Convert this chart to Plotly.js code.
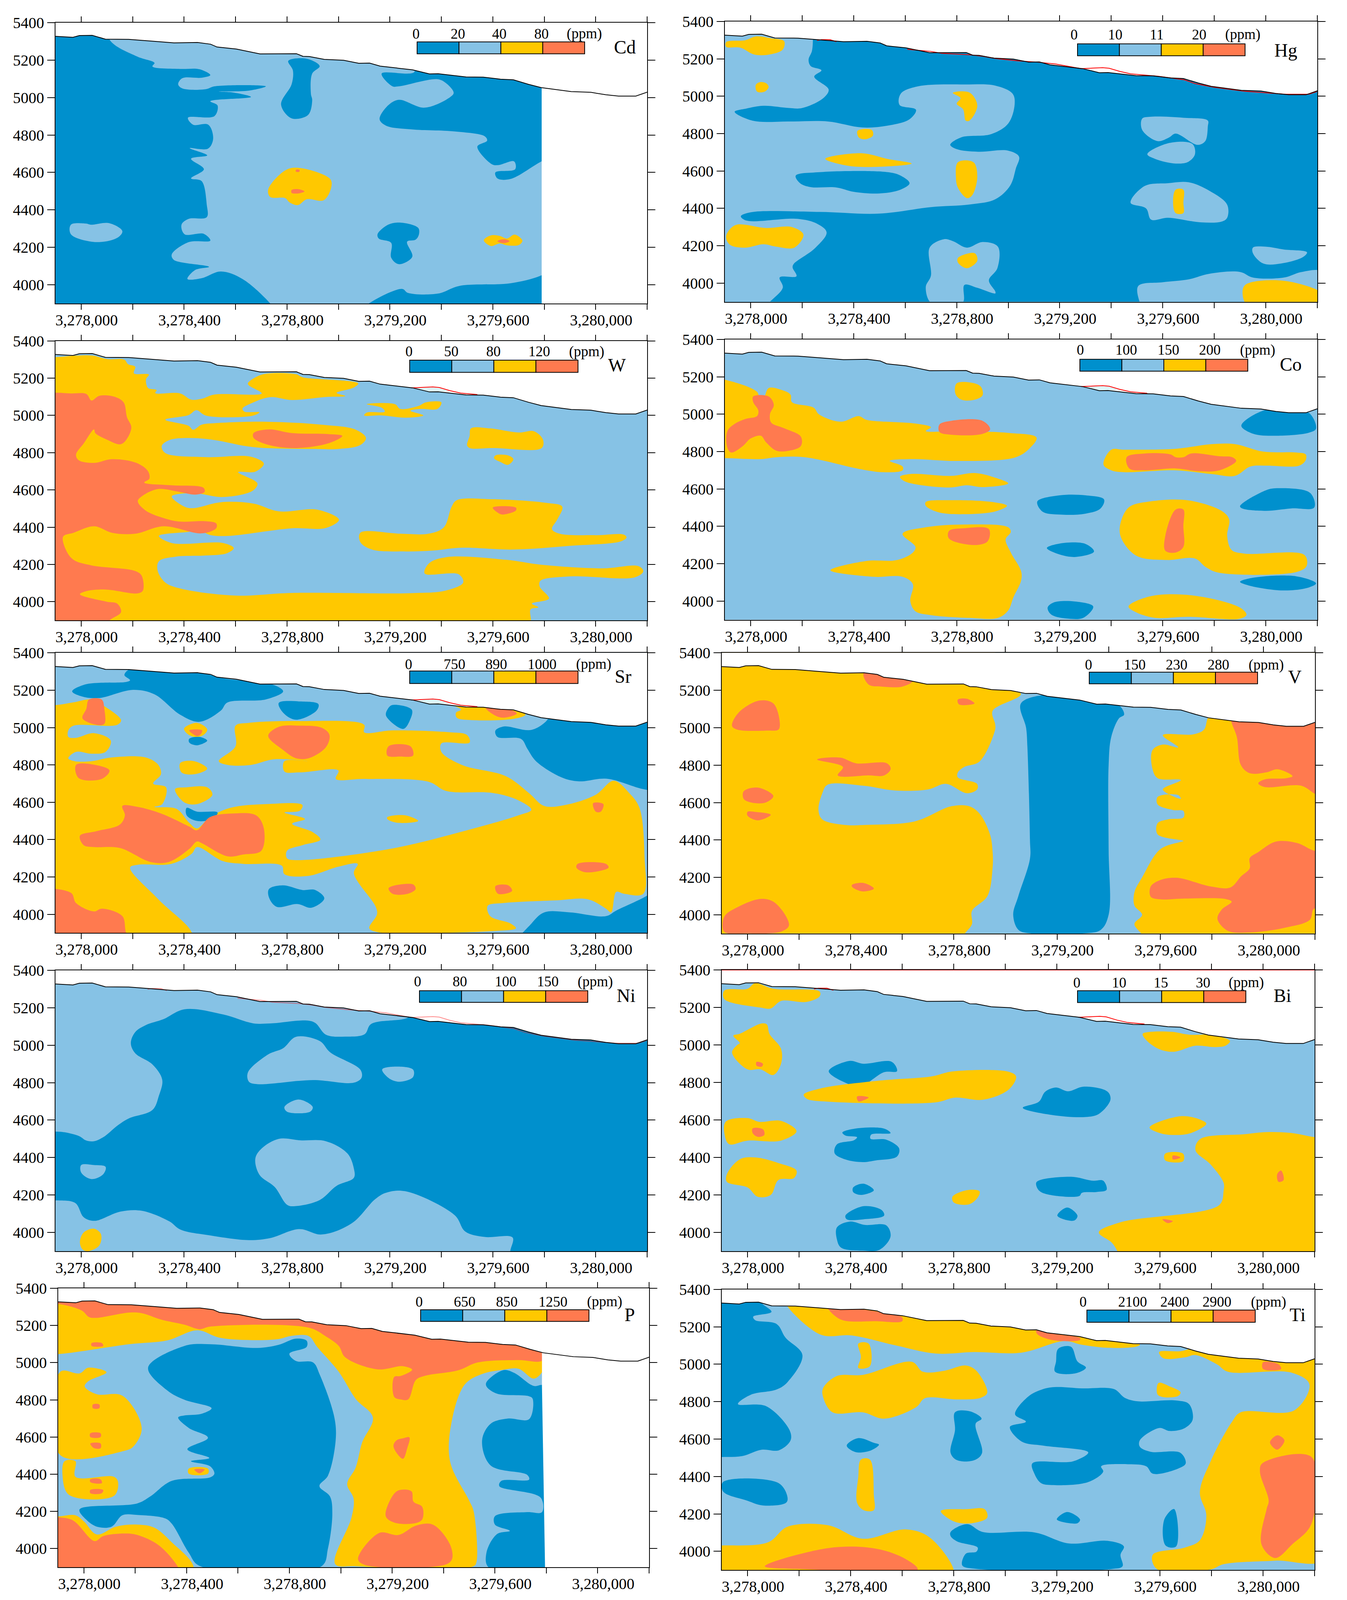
<!DOCTYPE html>
<html>
<head>
<meta charset="utf-8">
<script src="https://cdn.plot.ly/plotly-3.0.1.min.js"></script>
<style>body{margin:0;background:#fff;overflow:hidden}</style>
</head>
<body>
<div id="chart"></div>
<script>
// x values below are metres east of x0, y values are elevation in m
const x0 = 3278000;
const xTickVals = [0,200,400,600,800,1000,1200,1400,1600,1800,2000,2200].map(v => x0 + v);
const xTickText = ["3,278,000","","3,278,400","","3,278,800","","3,279,200","","3,279,600","","3,280,000",""];
const yTickVals = [4000,4200,4400,4600,4800,5000,5200,5400];
const classColors = ["#0090CD","#86C2E5","#FFC800","#FF7A4F"];

const terrain = [[-100,5327],[-32,5322],[-7,5331],[43,5332],[94,5312],[185,5311],[269,5302],[361,5292],[452,5294],[503,5285],[528,5270],[603,5259],[695,5233],[837,5234],[862,5220],[887,5219],[945,5204],[1020,5199],[1079,5183],[1121,5184],[1162,5168],[1288,5148],[1354,5126],[1388,5127],[1496,5110],[1563,5109],[1630,5098],[1680,5095],[1738,5071],[1788,5053],[1905,5032],[1981,5028],[2039,5015],[2089,5008],[2156,5008],[2181,5020],[2200,5029]];
const redFull = [[258,5299],[275,5303],[308,5303],[333,5292]];
const redLong = [[608,5251],[667,5244],[700,5240],[742,5230],[850,5222],[900,5214],[950,5202],[1033,5190],[1117,5182],[1183,5173],[1283,5148],[1367,5153],[1392,5150],[1433,5133],[1475,5120],[1583,5107],[1683,5088],[1725,5068],[1800,5048],[1917,5027],[2025,5016],[2075,5011],[2167,5011],[2198,5025]];
const redShort = [[1283,5148],[1367,5153],[1392,5150],[1433,5133],[1475,5120],[1540,5112]];
const redTop = [[-100,5400],[2200,5400]];
const paleWedge = [[1283,5148],[1367,5151],[1392,5148],[1430,5131],[1388,5127],[1354,5126]];
const cutCd = [[1790,5054],[1790,3900],[2200,3900],[2200,5054]];
const cutP = [[1783,5060],[1783,4875],[1795,3900],[2200,3900],[2200,5060]];

const cdAreas = [
 [0,[[100,5450],[110,5310],[218,5219],[285,5185],[277,5166],[385,5153],[460,5151],[502,5120],[468,5106],[393,5103],[377,5071],[393,5049],[485,5045],[518,5060],[718,5060],[652,5037],[535,5032],[585,5028],[660,5003],[502,4980],[530,4958],[518,4901],[415,4892],[435,4855],[494,4855],[513,4781],[493,4727],[422,4730],[490,4691],[427,4673],[477,4617],[427,4568],[468,4554],[488,4429],[488,4361],[418,4352],[390,4321],[402,4270],[477,4272],[502,4236],[418,4228],[352,4162],[360,4133],[497,4096],[443,4079],[413,4031],[468,4035],[543,4071],[627,4031],[735,3900],[760,3850],[-200,3850],[-200,5450]]],
 [1,[[-40,4321],[18,4327],[38,4321],[110,4329],[160,4287],[143,4253],[60,4228],[-40,4270],[-40,4321]]],
 [0,[[805,5196],[877,5207],[927,5168],[898,5128],[893,5020],[898,4986],[882,4907],[818,4889],[777,4963],[818,5071],[823,5145],[805,5196]]],
 [0,[[1288,5200],[1295,5136],[1168,5128],[1210,5060],[1235,5060],[1385,5098],[1418,5077],[1448,5026],[1435,5003],[1335,4946],[1235,4988],[1193,4958],[1160,4884],[1185,4850],[1285,4830],[1452,4819],[1569,4793],[1578,4770],[1540,4738],[1595,4645],[1620,4639],[1683,4659],[1687,4617],[1610,4600],[1618,4568],[1668,4565],[1785,4656],[1850,4700],[1850,5300],[1288,5200]]],
 [0,[[1118,3900],[1248,3978],[1270,3957],[1387,3953],[1470,3994],[1668,4008],[1785,4048],[1850,4100],[1850,3850],[1080,3850],[1118,3900]]],
 [0,[[1152,4270],[1193,4321],[1243,4332],[1310,4304],[1313,4270],[1300,4241],[1267,4230],[1287,4150],[1235,4110],[1205,4145],[1205,4224],[1157,4247],[1152,4270]]],
 [2,[[727,4509],[793,4611],[843,4625],[968,4565],[972,4520],[943,4452],[877,4457],[843,4426],[810,4440],[793,4463],[735,4469],[727,4509]]],
 [3,[[818,4506],[843,4511],[868,4499],[843,4488],[818,4491],[818,4506]]],
 [3,[[835,4614],[848,4614],[848,4604],[835,4604],[835,4614]]],
 [2,[[1565,4238],[1593,4264],[1627,4261],[1655,4247],[1685,4268],[1715,4236],[1702,4213],[1655,4211],[1627,4221],[1593,4207],[1565,4238]]],
 [3,[[1618,4233],[1643,4243],[1665,4233],[1643,4223],[1618,4233]]]
];

const hgAreas = [
 [1,[[242,5450],[242,5304],[238,5242],[225,5196],[233,5162],[275,5139],[247,5105],[303,5036],[283,4991],[200,4937],[150,4937],[50,4949],[-17,4934],[-62,4917],[8,4869],[150,4865],[300,4865],[433,4833],[533,4843],[617,4877],[642,4928],[578,4954],[583,5014],[650,5053],[833,5063],[950,5057],[1017,5014],[1025,4957],[1000,4854],[933,4797],[817,4780],[775,4740],[800,4717],[883,4703],[1000,4709],[1042,4677],[1030,4615],[1008,4523],[950,4449],[850,4421],[700,4407],[500,4372],[267,4381],[0,4379],[-38,4358],[-17,4335],[183,4344],[258,4318],[295,4272],[250,4187],[167,4102],[163,4084],[178,4037],[113,4031],[125,3976],[75,3900],[40,3850],[-200,3850],[-200,5450],[242,5450]]],
 [0,[[175,4575],[267,4594],[533,4594],[583,4575],[617,4535],[583,4501],[500,4480],[400,4489],[333,4512],[233,4514],[192,4535],[175,4575]]],
 [2,[[-95,5290],[-20,5300],[20,5320],[80,5310],[130,5295],[125,5250],[80,5225],[15,5223],[-40,5260],[-95,5265],[-95,5290]]],
 [2,[[20,5060],[35,5075],[60,5070],[70,5050],[55,5025],[25,5025],[20,5060]]],
 [2,[[415,4815],[470,4820],[475,4790],[445,4770],[420,4780],[415,4815]]],
 [2,[[290,4665],[430,4695],[530,4665],[625,4640],[480,4622],[370,4630],[290,4665]]],
 [2,[[785,5018],[850,5020],[880,4950],[850,4870],[835,4870],[825,4930],[800,4960],[815,4990],[785,5018]]],
 [2,[[805,4647],[865,4647],[880,4570],[860,4470],[840,4455],[805,4510],[797,4570],[805,4647]]],
 [2,[[-95,4250],[-60,4310],[60,4295],[160,4300],[205,4260],[170,4190],[100,4195],[50,4208],[-20,4190],[-80,4205],[-95,4250]]],
 [1,[[700,3895],[680,3980],[700,4040],[695,4190],[750,4235],[785,4225],[840,4190],[900,4220],[960,4195],[958,4080],[925,4015],[950,3955],[950,3945],[880,3975],[830,3990],[825,3900],[780,3895],[700,3895]]],
 [2,[[805,4135],[870,4160],[880,4120],[840,4080],[805,4110],[805,4135]]],
 [1,[[1520,4880],[1550,4890],[1680,4885],[1775,4870],[1775,4840],[1765,4760],[1735,4740],[1650,4800],[1625,4780],[1580,4760],[1520,4820],[1520,4880]]],
 [1,[[1540,4690],[1625,4750],[1715,4745],[1725,4690],[1700,4650],[1650,4640],[1570,4665],[1540,4690]]],
 [1,[[1475,4430],[1530,4520],[1620,4535],[1700,4540],[1780,4495],[1850,4420],[1850,4350],[1830,4330],[1750,4325],[1620,4350],[1555,4340],[1535,4400],[1475,4430]]],
 [2,[[1650,4500],[1680,4500],[1680,4430],[1680,4375],[1650,4375],[1640,4430],[1650,4500]]],
 [1,[[1950,4190],[2000,4195],[2070,4180],[2160,4165],[2145,4140],[2060,4105],[1990,4105],[1950,4160],[1950,4190]]],
 [1,[[1510,3900],[1505,3985],[1600,4005],[1700,4020],[1780,4050],[1900,4060],[1950,4030],[2070,4030],[2140,4060],[2220,4060],[2250,3850],[1530,3850],[1510,3900]]],
 [2,[[1920,3990],[2050,4015],[2180,3975],[2210,3950],[2210,3880],[2050,3895],[1930,3880],[1910,3940],[1920,3990]]]
];

const wAreas = [
 [2,[[-200,5313],[-100,5313],[-15,5321],[43,5321],[102,5302],[168,5299],[182,5275],[210,5261],[205,5226],[263,5219],[252,5194],[260,5147],[293,5136],[288,5120],[385,5118],[427,5085],[468,5089],[518,5112],[702,5118],[652,5161],[648,5172],[702,5219],[835,5221],[860,5205],[1077,5172],[1060,5150],[993,5121],[1027,5104],[952,5099],[818,5083],[735,5098],[668,5069],[627,5036],[635,5020],[693,5017],[668,4999],[485,4999],[448,5028],[418,5002],[327,4977],[418,4944],[435,4923],[468,4950],[518,4958],[718,4966],[935,4950],[1068,4923],[1107,4879],[1085,4841],[1002,4820],[902,4820],[668,4830],[518,4868],[418,4879],[343,4868],[313,4836],[327,4798],[485,4776],[660,4778],[710,4741],[677,4698],[610,4695],[685,4635],[668,4597],[552,4562],[435,4583],[352,4565],[402,4510],[435,4502],[543,4534],[668,4527],[768,4485],[918,4494],[1002,4440],[952,4396],[818,4394],[568,4353],[502,4358],[460,4383],[418,4375],[302,4353],[352,4315],[552,4315],[593,4288],[568,4261],[485,4248],[368,4242],[302,4217],[297,4168],[327,4103],[385,4071],[602,4033],[818,4047],[1285,4046],[1418,4060],[1485,4103],[1468,4147],[1335,4152],[1352,4206],[1418,4239],[1652,4225],[1785,4199],[2027,4179],[2168,4190],[2185,4163],[2152,4131],[1902,4136],[1785,4112],[1782,4082],[1818,4017],[1752,3990],[1777,3970],[1747,3959],[1748,3900],[1740,3850],[-200,3850],[-200,5313]]],
 [3,[[-200,5122],[-100,5122],[-40,5118],[20,5115],[40,5080],[70,5105],[130,5100],[165,5070],[178,4990],[195,4935],[170,4860],[150,4845],[100,4870],[55,4905],[50,4925],[10,4850],[-20,4790],[-10,4760],[50,4745],[120,4765],[215,4745],[260,4700],[265,4660],[245,4640],[350,4625],[475,4612],[480,4590],[445,4575],[380,4590],[300,4605],[240,4570],[220,4540],[250,4490],[330,4445],[385,4430],[480,4432],[525,4420],[525,4395],[470,4367],[320,4405],[210,4365],[120,4370],[50,4405],[-30,4370],[-70,4350],[-60,4280],[-30,4225],[40,4195],[210,4165],[235,4140],[240,4060],[220,4045],[100,4065],[30,4060],[-5,4040],[100,4000],[140,3990],[155,3945],[110,3900],[80,3850],[-200,3850],[-200,5122]]],
 [3,[[670,4905],[730,4925],[820,4905],[960,4900],[1015,4890],[960,4850],[830,4825],[720,4845],[670,4880],[670,4905]]],
 [2,[[1110,5060],[1220,5060],[1240,5035],[1310,5050],[1340,5070],[1400,5070],[1385,5035],[1320,5035],[1280,5025],[1330,5000],[1260,4988],[1170,5000],[1100,5000],[1110,5015],[1180,5020],[1170,5040],[1110,5060]]],
 [2,[[1515,4930],[1590,4930],[1700,4908],[1760,4915],[1795,4870],[1790,4825],[1600,4825],[1510,4825],[1500,4840],[1510,4890],[1515,4930]]],
 [2,[[1610,4785],[1660,4785],[1680,4765],[1660,4735],[1630,4750],[1605,4770],[1610,4785]]],
 [2,[[1085,4370],[1240,4365],[1350,4365],[1410,4400],[1440,4510],[1460,4545],[1600,4550],[1810,4530],[1870,4510],[1850,4440],[1830,4390],[1860,4365],[2000,4357],[2110,4360],[2120,4345],[2100,4325],[1900,4300],[1680,4280],[1480,4290],[1370,4275],[1260,4270],[1130,4280],[1085,4320],[1085,4370]]],
 [3,[[1600,4505],[1690,4505],[1690,4490],[1650,4470],[1630,4470],[1600,4505]]]
];

const coAreas = [
 [2,[[-200,5200],[-100,5185],[25,5120],[35,5085],[50,5085],[70,5140],[120,5130],[155,5105],[160,5065],[245,5035],[265,5000],[350,4960],[420,4990],[450,4970],[640,4950],[700,4930],[680,4910],[800,4910],[1000,4900],[1110,4875],[1085,4820],[1030,4770],[800,4750],[630,4760],[540,4750],[590,4720],[590,4700],[510,4690],[430,4705],[210,4770],[100,4770],[40,4760],[-100,4765],[-200,4765],[-200,5200]]],
 [3,[[10,5095],[70,5095],[90,5050],[75,5000],[80,4955],[130,4925],[195,4880],[195,4830],[150,4805],[100,4805],[60,4850],[40,4885],[0,4870],[-30,4830],[-75,4795],[-90,4820],[-90,4910],[-60,4950],[-20,4975],[25,4990],[30,5020],[10,5065],[10,5095]]],
 [2,[[800,5165],[870,5165],[895,5145],[900,5100],[860,5075],[815,5080],[795,5110],[800,5165]]],
 [3,[[733,4945],[780,4965],[900,4965],[930,4920],[900,4895],[780,4890],[733,4905],[733,4945]]],
 [2,[[1400,4810],[1450,4810],[1650,4815],[1790,4840],[1880,4840],[1990,4800],[2120,4795],[2155,4785],[2155,4755],[2130,4725],[2000,4725],[1940,4720],[1880,4670],[1790,4680],[1650,4700],[1450,4690],[1400,4700],[1370,4730],[1400,4810]]],
 [3,[[1460,4770],[1530,4790],[1630,4785],[1650,4770],[1680,4770],[1710,4790],[1820,4775],[1870,4770],[1885,4750],[1820,4700],[1740,4695],[1650,4710],[1530,4700],[1470,4710],[1460,4770]]],
 [2,[[580,4665],[620,4680],[780,4670],[870,4685],[950,4660],[1000,4630],[900,4610],[840,4620],[770,4608],[600,4640],[580,4665]]],
 [2,[[680,4530],[780,4540],[940,4530],[995,4510],[950,4480],[830,4465],[730,4475],[680,4510],[680,4530]]],
 [2,[[590,4360],[680,4395],[830,4410],[1000,4395],[1010,4370],[990,4330],[1010,4260],[1050,4160],[1050,4110],[1020,4020],[1000,3950],[960,3910],[850,3910],[700,3925],[640,3945],[620,4000],[630,4090],[590,4130],[480,4130],[310,4165],[450,4215],[570,4220],[630,4260],[640,4290],[590,4360]]],
 [3,[[770,4375],[830,4390],[925,4385],[920,4320],[870,4300],[770,4335],[770,4375]]],
 [0,[[1113,4533],[1200,4566],[1300,4566],[1372,4544],[1358,4495],[1300,4468],[1200,4463],[1133,4479],[1113,4533]]],
 [2,[[1467,4500],[1550,4533],[1700,4539],[1833,4479],[1858,4436],[1850,4350],[1867,4274],[1917,4254],[2150,4247],[2158,4187],[2117,4155],[1817,4152],[1767,4182],[1725,4228],[1617,4220],[1500,4241],[1442,4328],[1433,4393],[1467,4500]]],
 [3,[[1650,4490],[1680,4490],[1680,4400],[1680,4290],[1650,4260],[1610,4270],[1610,4350],[1650,4490]]],
 [0,[[1905,4939],[1997,5022],[2083,5007],[2167,5007],[2195,4923],[2167,4901],[2033,4885],[1950,4896],[1905,4939]]],
 [0,[[1900,4508],[2000,4593],[2050,4604],[2172,4579],[2188,4501],[2100,4496],[2000,4483],[1908,4496],[1900,4508]]],
 [0,[[1900,4103],[1950,4125],[2117,4133],[2195,4095],[2167,4073],[2067,4057],[1933,4084],[1900,4103]]],
 [0,[[1153,3965],[1175,3992],[1258,3998],[1330,3971],[1292,3911],[1233,3906],[1167,3928],[1153,3965]]],
 [0,[[1150,4284],[1200,4308],[1300,4306],[1333,4265],[1258,4236],[1183,4257],[1150,4284]]],
 [2,[[1467,3971],[1550,4025],[1717,4030],[1900,3965],[1925,3927],[1900,3906],[1700,3916],[1567,3911],[1492,3943],[1467,3971]]]
];

const srAreas = [
 [0,[[185,5310],[252,5312],[468,5292],[552,5264],[752,5227],[785,5194],[718,5151],[568,5134],[543,5091],[460,5031],[385,5069],[285,5178],[202,5202],[68,5158],[2,5167],[-35,5194],[18,5232],[177,5245],[190,5254],[168,5281],[185,5310]]],
 [2,[[-200,5120],[-100,5120],[-30,5135],[40,5150],[90,5115],[155,5040],[140,5015],[-30,5010],[-50,4985],[-50,4950],[-20,4945],[50,4970],[115,4930],[95,4870],[40,4860],[-20,4870],[-50,4835],[-25,4820],[40,4820],[120,4840],[250,4840],[300,4800],[310,4750],[280,4700],[330,4680],[315,4590],[285,4575],[370,4565],[420,4490],[450,4460],[500,4520],[580,4570],[720,4590],[860,4585],[850,4555],[790,4545],[870,4510],[820,4485],[900,4440],[930,4400],[860,4370],[800,4340],[800,4300],[840,4290],[1200,4350],[1500,4450],[1700,4530],[1750,4560],[1700,4610],[1600,4650],[1420,4660],[1350,4710],[1100,4725],[990,4725],[1000,4770],[850,4760],[790,4765],[790,4820],[880,4820],[750,4830],[660,4800],[570,4800],[535,4820],[600,4900],[600,5010],[650,5025],[850,5035],[1100,5015],[1100,4975],[1210,4985],[1430,4975],[1500,4960],[1510,4920],[1400,4915],[1400,4870],[1480,4800],[1650,4740],[1740,4650],[1800,4580],[1880,4585],[2000,4640],[2070,4715],[2130,4650],[2170,4570],[2190,4300],[2185,4110],[2110,4110],[2080,4120],[2060,4010],[2040,4030],[1970,4080],[1850,4075],[1640,4060],[1580,4045],[1590,3990],[1670,3950],[1690,3925],[1600,3910],[1350,3900],[1150,3905],[1120,3925],[1150,4000],[1145,4040],[1060,4220],[1075,4270],[1000,4255],[880,4205],[790,4215],[780,4260],[630,4270],[550,4285],[450,4360],[430,4325],[350,4270],[220,4265],[190,4250],[300,4080],[430,3900],[420,3850],[-200,3850],[-200,5120]]],
 [3,[[30,5150],[80,5150],[90,5100],[90,5020],[60,5015],[5,5050],[20,5100],[30,5150]]],
 [2,[[1452,5118],[1685,5096],[1727,5069],[1685,5048],[1518,5040],[1460,5053],[1457,5080],[1477,5096],[1452,5118]]],
 [3,[[1573,5105],[1668,5096],[1693,5075],[1643,5053],[1610,5064],[1573,5105]]],
 [2,[[400,4995],[450,5025],[490,4990],[475,4960],[440,4950],[410,4970],[400,4995]]],
 [3,[[420,4985],[470,4985],[465,4965],[450,4955],[420,4985]]],
 [0,[[420,4940],[460,4950],[490,4930],[450,4905],[420,4920],[420,4940]]],
 [3,[[727,4956],[768,5004],[852,5010],[935,4999],[965,4961],[952,4896],[885,4836],[835,4836],[785,4880],[727,4956]]],
 [3,[[1195,4900],[1280,4900],[1290,4850],[1240,4845],[1190,4850],[1195,4900]]],
 [2,[[385,4810],[440,4820],[490,4780],[440,4750],[390,4760],[385,4810]]],
 [3,[[-20,4800],[55,4800],[110,4770],[80,4725],[-10,4730],[-20,4800]]],
 [2,[[365,4670],[410,4680],[490,4680],[510,4640],[450,4590],[400,4600],[365,4670]]],
 [0,[[410,4570],[450,4550],[530,4545],[510,4510],[450,4500],[410,4530],[410,4570]]],
 [3,[[160,4580],[220,4575],[310,4540],[420,4470],[450,4450],[500,4520],[590,4540],[680,4530],[710,4460],[700,4340],[630,4320],[570,4310],[470,4380],[450,4390],[420,4350],[340,4280],[270,4280],[150,4355],[50,4360],[10,4370],[-5,4420],[60,4445],[150,4480],[170,4530],[160,4580]]],
 [2,[[1190,4520],[1260,4530],[1310,4500],[1230,4490],[1190,4510],[1190,4520]]],
 [3,[[1990,4595],[2030,4590],[2020,4550],[2000,4550],[1990,4595]]],
 [3,[[1930,4270],[2040,4270],[2050,4250],[1960,4225],[1925,4250],[1930,4270]]],
 [3,[[1195,4140],[1290,4160],[1300,4135],[1270,4110],[1210,4110],[1195,4140]]],
 [3,[[1610,4150],[1660,4155],[1675,4125],[1620,4110],[1610,4150]]],
 [3,[[-200,4115],[-40,4115],[-20,4060],[50,4015],[80,4030],[160,3990],[175,3900],[200,3850],[-200,3850],[-200,4115]]],
 [0,[[730,4135],[785,4155],[860,4130],[910,4130],[945,4085],[895,4035],[840,4055],[760,4040],[730,4090],[730,4135]]],
 [0,[[1210,5121],[1285,5096],[1277,5037],[1252,4993],[1185,5064],[1193,5102],[1210,5121]]],
 [0,[[768,5132],[852,5140],[922,5126],[915,5091],[835,5042],[785,5080],[768,5132]]],
 [0,[[1818,5100],[1818,5053],[1752,4988],[1643,5006],[1610,4983],[1618,4950],[1710,4939],[1735,4885],[1768,4820],[1868,4733],[1935,4712],[2043,4726],[2193,4668],[2300,4660],[2300,5100],[1818,5100]]],
 [0,[[1700,3850],[1750,3950],[1800,4010],[1900,4010],[2040,3990],[2080,4020],[2200,4100],[2250,4150],[2250,3850],[1700,3850]]]
];

const vAreas = [
 [1,[[960,5240],[1060,5180],[950,5090],[960,5020],[960,4990],[900,4820],[840,4790],[815,4760],[815,4735],[890,4700],[890,4670],[850,4650],[770,4700],[700,4670],[570,4665],[450,4690],[310,4695],[290,4650],[275,4560],[290,4510],[380,4480],[450,4480],[650,4500],[790,4580],[860,4580],[900,4540],[940,4430],[950,4340],[950,4250],[930,4100],[870,4020],[870,3950],[840,3880],[1530,3880],[1500,3950],[1530,4000],[1500,4050],[1500,4120],[1530,4200],[1600,4350],[1680,4390],[1690,4395],[1590,4430],[1590,4490],[1630,4510],[1690,4520],[1690,4555],[1650,4560],[1590,4590],[1590,4630],[1670,4640],[1680,4620],[1610,4670],[1680,4720],[1590,4730],[1570,4780],[1570,4880],[1610,4910],[1670,4895],[1610,4960],[1730,4965],[1770,4990],[1790,5060],[1850,5050],[1700,5400],[960,5400],[960,5240]]],
 [0,[[1175,5180],[1060,5130],[1080,5000],[1085,4900],[1095,4400],[1095,4300],[1050,4100],[1030,4000],[1050,3920],[1100,3900],[1300,3900],[1370,3920],[1400,4000],[1400,4350],[1400,4800],[1410,4950],[1440,5050],[1460,5070],[1440,5120],[1370,5135],[1300,5170],[1175,5180]]],
 [3,[[450,5290],[520,5300],[620,5280],[640,5250],[600,5220],[520,5220],[470,5230],[450,5290]]],
 [3,[[45,5145],[100,5130],[125,5030],[120,4990],[80,4985],[-40,4990],[-60,5010],[-35,5080],[45,5145]]],
 [3,[[815,5150],[850,5155],[880,5130],[820,5125],[815,5150]]],
 [3,[[270,4830],[360,4840],[420,4810],[540,4810],[555,4780],[530,4745],[470,4745],[350,4745],[370,4790],[270,4830]]],
 [3,[[-15,4660],[40,4680],[100,4635],[70,4600],[15,4600],[-15,4620],[-15,4660]]],
 [3,[[0,4550],[30,4550],[90,4535],[40,4505],[0,4530],[0,4550]]],
 [3,[[405,4160],[450,4170],[490,4140],[445,4125],[405,4150],[405,4160]]],
 [3,[[-90,3990],[-40,4040],[50,4085],[100,4070],[150,3990],[160,3940],[130,3910],[0,3900],[-90,3910],[-90,3990]]],
 [3,[[1875,5100],[1875,5038],[1897,4951],[1913,4800],[1947,4757],[2013,4762],[2055,4778],[2113,4741],[2088,4730],[2005,4724],[1980,4703],[2005,4683],[2147,4690],[2205,4643],[2300,4600],[2300,5100],[1875,5100]]],
 [3,[[1980,4335],[2047,4391],[2130,4384],[2202,4341],[2300,4340],[2300,4030],[2197,4033],[2180,3973],[2080,3930],[1947,3906],[1863,3914],[1822,3978],[1838,4027],[1877,4070],[1855,4084],[1697,4087],[1597,4083],[1563,4097],[1563,4151],[1597,4184],[1663,4198],[1797,4151],[1872,4146],[1913,4205],[1947,4249],[1947,4303],[1980,4335]]]
];

const niAreas = [
 [0,[[-200,4539],[-100,4539],[-65,4535],[-7,4514],[18,4492],[48,4487],[85,4508],[143,4573],[185,4609],[277,4654],[302,4730],[315,4816],[277,4897],[210,4957],[193,5011],[210,5070],[252,5108],[318,5138],[402,5192],[552,5164],[668,5117],[735,5116],[877,5132],[910,5119],[952,5056],[1027,5046],[1102,5059],[1127,5113],[1268,5146],[1320,5200],[2300,5200],[2300,3850],[1668,3850],[1668,3900],[1677,3973],[1568,3976],[1493,4005],[1452,4092],[1260,4220],[1185,4212],[1143,4178],[1052,4049],[935,3989],[848,4018],[735,3970],[652,3959],[502,3984],[385,4016],[343,4059],[235,4116],[152,4111],[52,4062],[10,4081],[-23,4157],[-100,4171],[-200,4171],[-200,4539]]],
 [1,[[835,5045],[928,5022],[968,4962],[1085,4870],[1090,4827],[1060,4800],[902,4814],[685,4792],[652,4805],[648,4854],[727,4951],[785,4984],[835,5045]]],
 [1,[[1170,4870],[1210,4885],[1290,4870],[1290,4830],[1240,4805],[1200,4820],[1170,4870]]],
 [1,[[790,4670],[845,4710],[900,4670],[890,4645],[800,4645],[790,4670]]],
 [1,[[677,4395],[702,4449],[768,4500],[852,4492],[952,4487],[1035,4422],[1060,4341],[1060,4292],[993,4249],[927,4173],[835,4141],[802,4146],[752,4243],[693,4308],[677,4395]]],
 [2,[[10,4000],[50,4020],[77,3990],[70,3930],[25,3900],[5,3910],[-5,3950],[10,4000]]],
 [1,[[0,4360],[50,4360],[95,4350],[85,4310],[40,4285],[0,4320],[0,4360]]]
];

const biAreas = [
 [2,[[-90,5290],[0,5300],[30,5330],[100,5300],[280,5285],[280,5260],[230,5230],[130,5235],[90,5195],[50,5200],[-90,5245],[-90,5290]]],
 [2,[[55,5115],[75,5110],[85,5060],[130,4980],[130,4900],[100,4840],[50,4870],[0,4870],[-60,4960],[-40,5000],[-30,5010],[-55,5050],[-30,5060],[55,5115]]],
 [3,[[35,4910],[60,4900],[55,4885],[35,4890],[35,4910]]],
 [0,[[315,4860],[395,4915],[450,4900],[560,4910],[580,4860],[530,4855],[440,4780],[395,4790],[315,4860]]],
 [2,[[218,4735],[280,4767],[513,4810],[713,4832],[797,4859],[1013,4857],[1042,4832],[1013,4762],[913,4708],[805,4719],[730,4694],[297,4699],[230,4713],[218,4735]]],
 [3,[[425,4725],[470,4720],[450,4705],[430,4700],[425,4725]]],
 [0,[[1068,4665],[1130,4697],[1155,4751],[1197,4773],[1243,4753],[1305,4778],[1397,4751],[1408,4708],[1363,4632],[1313,4616],[1180,4627],[1068,4665]]],
 [2,[[-85,4590],[0,4610],[45,4590],[130,4595],[190,4540],[130,4490],[0,4490],[-70,4470],[-85,4500],[-85,4590]]],
 [3,[[20,4555],[60,4550],[65,4520],[40,4510],[20,4530],[20,4555]]],
 [0,[[368,4533],[413,4553],[530,4554],[555,4530],[480,4522],[477,4500],[538,4495],[588,4449],[580,4405],[497,4384],[447,4375],[380,4389],[338,4422],[347,4470],[413,4492],[425,4508],[380,4517],[368,4533]]],
 [2,[[-80,4310],[-30,4390],[30,4400],[120,4370],[190,4330],[180,4290],[120,4280],[90,4200],[40,4190],[0,4240],[-80,4270],[-80,4310]]],
 [0,[[410,4240],[450,4260],[490,4225],[440,4200],[410,4215],[410,4240]]],
 [2,[[795,4190],[850,4225],[900,4220],[895,4190],[860,4150],[800,4160],[795,4190]]],
 [0,[[1122,4270],[1255,4297],[1338,4276],[1380,4276],[1393,4227],[1355,4216],[1297,4211],[1288,4195],[1213,4193],[1138,4216],[1122,4243],[1122,4270]]],
 [0,[[380,4090],[450,4140],[520,4120],[530,4090],[450,4070],[385,4070],[380,4090]]],
 [0,[[1202,4090],[1240,4133],[1280,4090],[1270,4065],[1240,4065],[1202,4090]]],
 [0,[[347,4027],[397,4058],[455,4040],[538,4038],[555,3979],[513,3908],[447,3903],[363,3919],[347,3962],[347,4027]]],
 [2,[[1533,5059],[1563,5070],[1647,5070],[1713,5055],[1805,5053],[1872,5021],[1855,4997],[1813,4989],[1738,4996],[1655,4964],[1597,4978],[1547,5026],[1533,5059]]],
 [2,[[1560,4560],[1680,4620],[1760,4600],[1780,4580],[1720,4530],[1650,4520],[1600,4530],[1560,4560]]],
 [2,[[1620,4420],[1690,4420],[1690,4380],[1620,4385],[1620,4420]]],
 [3,[[1650,4410],[1680,4400],[1650,4390],[1650,4410]]],
 [2,[[1738,4438],[1755,4497],[1930,4524],[2013,4535],[2113,4530],[2202,4508],[2300,4500],[2300,3850],[1450,3850],[1435,3900],[1413,3946],[1363,4000],[1447,4054],[1830,4146],[1847,4222],[1847,4265],[1797,4362],[1738,4438]]],
 [3,[[2055,4310],[2070,4330],[2080,4280],[2060,4270],[2055,4310]]],
 [3,[[1610,4070],[1650,4060],[1630,4050],[1610,4070]]]
];

const pAreas = [
 [2,[[-200,5046],[-100,5046],[175,5099],[325,5120],[442,5174],[525,5135],[625,5122],[758,5127],[808,5144],[875,5143],[908,5085],[992,4951],[1058,4805],[1125,4705],[1083,4570],[1058,4436],[1025,4347],[1050,4268],[1042,4168],[978,3917],[1058,3905],[1517,3905],[1528,3927],[1517,4201],[1500,4257],[1425,4470],[1433,4693],[1483,4883],[1550,4939],[1633,4962],[1692,4967],[1750,4914],[1778,4939],[1800,5000],[1800,5400],[-200,5400],[-200,5046]]],
 [3,[[-200,5400],[-200,5316],[-100,5316],[-8,5280],[20,5245],[50,5241],[175,5269],[225,5266],[300,5232],[392,5204],[450,5180],[492,5194],[875,5188],[942,5141],[992,5090],[1017,5029],[1142,4964],[1242,4981],[1278,4962],[1233,4928],[1208,4923],[1208,4816],[1233,4802],[1262,4802],[1292,4906],[1325,4928],[1458,4959],[1533,5001],[1692,5014],[1783,5010],[1800,5060],[1800,5400],[-200,5400]]],
 [0,[[250,4973],[392,5090],[492,5099],[675,5079],[758,5096],[825,5129],[867,5118],[867,5085],[800,5048],[825,5009],[892,5001],[917,4939],[975,4705],[980,4582],[950,4392],[917,4336],[958,4280],[967,4190],[950,4000],[925,3905],[450,3907],[408,3978],[342,4134],[317,4162],[208,4181],[150,4179],[108,4118],[50,4118],[8,4157],[-17,4210],[208,4243],[258,4280],[342,4364],[492,4383],[508,4403],[492,4442],[417,4470],[488,4487],[403,4534],[483,4596],[408,4649],[367,4705],[392,4716],[458,4725],[497,4755],[392,4800],[325,4850],[250,4973]]],
 [2,[[-92,4951],[-17,4942],[17,4973],[88,4948],[17,4900],[3,4872],[50,4830],[150,4822],[225,4649],[192,4548],[158,4526],[-92,4503],[-92,4951]]],
 [3,[[30,5105],[70,5105],[75,5090],[30,5090],[30,5105]]],
 [3,[[35,4775],[60,4775],[60,4755],[35,4755],[35,4775]]],
 [3,[[25,4620],[65,4620],[65,4600],[25,4600],[25,4620]]],
 [3,[[25,4565],[65,4565],[65,4540],[40,4540],[25,4565]]],
 [2,[[-75,4470],[-33,4470],[-33,4386],[117,4386],[133,4358],[117,4283],[-58,4289],[-83,4392],[-75,4470]]],
 [3,[[25,4372],[65,4372],[70,4352],[25,4358],[25,4372]]],
 [3,[[25,4315],[75,4315],[70,4298],[25,4298],[25,4315]]],
 [2,[[408,4430],[483,4430],[483,4403],[408,4403],[408,4430]]],
 [3,[[430,4425],[470,4425],[450,4405],[430,4425]]],
 [3,[[1242,4593],[1267,4598],[1258,4537],[1242,4483],[1217,4515],[1205,4554],[1217,4582],[1242,4593]]],
 [3,[[1175,4174],[1200,4280],[1225,4313],[1275,4308],[1283,4252],[1317,4224],[1317,4157],[1292,4137],[1208,4140],[1175,4174]]],
 [3,[[1067,3944],[1150,4084],[1225,4073],[1292,4123],[1358,4129],[1425,4022],[1433,3944],[1408,3914],[1092,3913],[1067,3944]]],
 [2,[[-200,4173],[-100,4173],[-33,4179],[0,4146],[50,4076],[125,4118],[208,4129],[275,4112],[342,4034],[425,3911],[420,3850],[-200,3850],[-200,4173]]],
 [3,[[-200,4168],[-100,4168],[-42,4151],[42,4040],[75,4067],[158,4081],[208,4073],[292,4017],[367,3900],[380,3850],[-200,3850],[-200,4168]]],
 [0,[[1567,4895],[1633,4960],[1675,4945],[1750,4875],[1792,4875],[1795,3900],[1575,3900],[1567,3978],[1608,4078],[1658,4095],[1600,4129],[1600,4174],[1725,4196],[1783,4196],[1778,4274],[1617,4336],[1625,4364],[1733,4371],[1725,4397],[1583,4447],[1550,4582],[1583,4671],[1650,4699],[1733,4696],[1747,4805],[1733,4819],[1608,4833],[1567,4872],[1567,4895]]]
];

const tiAreas = [
 [0,[[-200,5350],[50,5350],[55,5327],[93,5280],[22,5254],[30,5235],[113,5215],[147,5143],[213,5049],[155,4904],[113,4865],[13,4837],[-37,4787],[72,4776],[163,4648],[167,4593],[122,4540],[55,4543],[-20,4509],[-100,4504],[-200,4504],[-200,5350]]],
 [2,[[143,5350],[340,5330],[600,5290],[1000,5230],[1300,5170],[1500,5125],[1522,5104],[1505,5093],[1397,5088],[1297,5104],[1230,5124],[1063,5062],[880,5065],[730,5057],[580,5099],[405,5154],[280,5160],[143,5350]]],
 [3,[[310,5310],[400,5300],[460,5290],[600,5250],[600,5230],[500,5230],[360,5240],[310,5310]]],
 [3,[[1120,5180],[1200,5160],[1290,5140],[1290,5130],[1180,5130],[1125,5160],[1120,5180]]],
 [2,[[430,5110],[470,5110],[475,4990],[430,4980],[440,5040],[430,5110]]],
 [2,[[293,4871],[347,4937],[447,4943],[638,5013],[680,4960],[763,4965],[847,4993],[888,4965],[930,4848],[905,4821],[813,4812],[688,4818],[655,4771],[530,4709],[447,4743],[330,4743],[293,4826],[293,4871]]],
 [2,[[1595,4900],[1640,4880],[1680,4850],[1670,4830],[1610,4825],[1590,4840],[1595,4900]]],
 [2,[[1597,5065],[1680,5070],[1750,5090],[1900,5060],[2100,5040],[2250,5060],[2250,3965],[2047,3950],[1847,3931],[1797,3903],[1588,3905],[1572,3981],[1697,4020],[1755,4059],[1780,4192],[1755,4315],[1797,4482],[1880,4693],[1913,4743],[2122,4754],[2180,4893],[2113,4954],[1863,4960],[1822,4999],[1738,5049],[1697,5037],[1613,5032],[1597,5065]]],
 [3,[[2000,5010],[2060,5000],[2070,4975],[2000,4975],[2000,5010]]],
 [3,[[2055,4620],[2083,4593],[2055,4543],[2027,4582],[2055,4620]]],
 [3,[[1997,4470],[2188,4504],[2188,4148],[2113,4037],[2047,3964],[1994,4037],[2014,4226],[2022,4270],[1988,4426],[1997,4470]]],
 [0,[[1205,5082],[1255,5093],[1280,5015],[1313,4982],[1272,4951],[1193,4960],[1197,5015],[1205,5082]]],
 [0,[[1088,4826],[1147,4867],[1197,4878],[1297,4871],[1422,4867],[1463,4821],[1513,4802],[1663,4806],[1713,4787],[1727,4704],[1697,4659],[1638,4643],[1597,4659],[1522,4593],[1522,4559],[1563,4532],[1680,4526],[1700,4470],[1672,4443],[1572,4415],[1547,4454],[1480,4465],[1372,4454],[1380,4426],[1322,4370],[1180,4354],[1138,4365],[1113,4415],[1105,4470],[1263,4481],[1322,4529],[1147,4565],[1063,4587],[1018,4665],[1080,4693],[1038,4732],[1088,4826]]],
 [0,[[805,4743],[863,4748],[908,4709],[885,4682],[910,4526],[880,4487],[813,4487],[788,4526],[805,4648],[805,4743]]],
 [0,[[385,4565],[430,4605],[490,4580],[510,4570],[480,4540],[420,4530],[385,4565]]],
 [2,[[440,4490],[475,4490],[490,4300],[490,4220],[450,4220],[425,4260],[430,4400],[440,4490]]],
 [0,[[-95,4370],[120,4365],[155,4290],[150,4260],[60,4245],[0,4270],[-95,4320],[-95,4370]]],
 [2,[[750,4215],[850,4225],[920,4225],[930,4180],[870,4150],[800,4160],[750,4215]]],
 [0,[[1200,4170],[1240,4210],[1290,4170],[1280,4150],[1200,4170]]],
 [0,[[1655,4226],[1663,4026],[1622,4031],[1617,4170],[1655,4226]]],
 [2,[[-200,4031],[-100,4031],[80,4048],[155,4131],[313,4139],[447,4067],[613,4117],[705,4076],[800,3900],[790,3850],[-200,3850],[-200,4031]]],
 [3,[[67,3920],[313,4017],[497,4014],[613,3959],[660,3903],[213,3905],[67,3920]]],
 [0,[[788,4103],[852,4145],[913,4103],[1113,4101],[1247,4042],[1397,4056],[1460,4026],[1447,3981],[1455,3920],[1413,3905],[880,3907],[833,3925],[847,3987],[888,3998],[893,4020],[813,4053],[788,4081],[788,4103]]]
];

const elementNames = ["Cd","Hg","W","Co","Sr","V","Ni","Bi","P","Ti"];
const classLabels = [["0","20","40","80"],["0","10","11","20"],["0","50","80","120"],["0","100","150","200"],["0","750","890","1000"],["0","150","230","280"],["0","80","100","150"],["0","10","15","30"],["0","650","850","1250"],["0","2100","2400","2900"]];
const panelAreas = [cdAreas,hgAreas,wAreas,coAreas,srAreas,vAreas,niAreas,biAreas,pAreas,tiAreas];
const panelBase = [1,0,1,1,1,2,1,1,1,1];

// page layout in reference pixels: plot box l,r,t,b / legend box / label row y / label centres / symbol x,y
const refW = 3449, refH = 5651;
const boxes = [
 {l:142,r:1657,t:80,b:1072,lx:1068,lr:1497,lt:148,lb:190,ty:119,tx:[1065,1172,1278,1386,1496],ex:1600,ey:166},
 {l:1856,r:3373,t:76,b:1066,lx:2759,lr:3188,lt:155,lb:197,ty:122,tx:[2750,2855,2962,3070,3182],ex:3292,ey:177},
 {l:142,r:1657,t:1204,b:2191,lx:1049,lr:1480,lt:1272,lb:1315,ty:1241,tx:[1047,1155,1263,1381,1502],ex:1580,ey:1289},
 {l:1856,r:3373,t:1199,b:2189,lx:2765,lr:3195,lt:1269,lb:1311,ty:1236,tx:[2766,2884,2992,3098,3220],ex:3305,ey:1286},
 {l:142,r:1657,t:2306,b:3295,lx:1049,lr:1480,lt:2370,lb:2414,ty:2346,tx:[1046,1164,1271,1388,1520],ex:1595,ey:2389},
 {l:1848,r:3367,t:2306,b:3297,lx:2789,lr:3220,lt:2374,lb:2415,ty:2348,tx:[2787,2906,3013,3120,3242],ex:3315,ey:2390},
 {l:142,r:1657,t:3427,b:4419,lx:1074,lr:1505,lt:3499,lb:3540,ty:3467,tx:[1069,1177,1295,1403,1524],ex:1603,ey:3516},
 {l:1848,r:3366,t:3426,b:4419,lx:2759,lr:3190,lt:3499,lb:3541,ty:3470,tx:[2757,2865,2972,3080,3191],ex:3283,ey:3516},
 {l:149,r:1662,t:4550,b:5535,lx:1077,lr:1508,lt:4626,lb:4667,ty:4597,tx:[1073,1190,1298,1416,1548],ex:1612,ey:4643},
 {l:1848,r:3366,t:4554,b:5545,lx:2783,lr:3214,lt:4627,lb:4670,ty:4598,tx:[2773,2900,3008,3116,3248],ex:3322,ey:4643}
];
const redLines = [[],[redFull,redLong],[redShort],[redShort],[redShort],[],[redFull,redLong],[redTop,redFull,redShort],[],[]];
const hasWedge = [false,false,true,true,true,false,false,false,false,false];
const cuts = [cutCd,null,null,null,null,null,null,null,cutP,null];

// the window can be shorter than the reference page, so fit the page to it
const W = Math.min(refW, window.innerWidth || refW);
const H = Math.min(refH, window.innerHeight || refH);
const sy = H / refH;
const fontFamily = '"Liberation Serif", "Times New Roman", serif';
const px = v => v / refW, py = v => 1 - v / refH;

const data = [], shapes = [], annotations = [];
const layout = {
    width: W, height: H, autosize: false,
    margin: {l: 0, r: 0, t: 0, b: 0, pad: 0},
    paper_bgcolor: "#fff", plot_bgcolor: "#fff",
    showlegend: false, hovermode: false,
    font: {family: fontFamily, color: "#000", size: 40},
    shapes: shapes, annotations: annotations
};

const polygon = (pts, color, xa, ya, smooth) => ({
    type: "scatter", mode: "lines", xaxis: xa, yaxis: ya,
    x: pts.map(p => x0 + p[0]), y: pts.map(p => p[1]),
    fill: "toself", fillcolor: color,
    line: {width: 0, color: color, shape: smooth ? "spline" : "linear", smoothing: 1},
    hoverinfo: "skip"
});
const polyline = (pts, color, width, xa, ya, opacity) => ({
    type: "scatter", mode: "lines", xaxis: xa, yaxis: ya,
    x: pts.map(p => x0 + p[0]), y: pts.map(p => p[1]),
    line: {width: width, color: color}, opacity: opacity || 1,
    hoverinfo: "skip"
});

boxes.forEach((b, i) => {
    const n = i + 1, xa = "x" + n, ya = "y" + n;
    layout["xaxis" + n] = {
        domain: [px(b.l), px(b.r)], range: [x0 - 100, x0 + 2200], anchor: ya,
        tickmode: "array", tickvals: xTickVals, ticktext: xTickText,
        ticks: "outside", ticklen: Math.round(19 * sy), tickwidth: 2, tickcolor: "#000",
        showline: true, linewidth: 2, linecolor: "#000", mirror: "ticks",
        showgrid: false, zeroline: false, ticklabelshift: 14, ticklabelstandoff: sy < 1 ? -8 : 6,
        tickfont: {family: fontFamily, size: 40, color: "#000"}, fixedrange: true
    };
    layout["yaxis" + n] = {
        domain: [py(b.b), py(b.t)], range: [3900, 5400], anchor: xa,
        tickmode: "array", tickvals: yTickVals,
        ticks: "outside", ticklen: 19, tickwidth: 2, tickcolor: "#000",
        showline: true, linewidth: 2, linecolor: "#000", mirror: "ticks",
        showgrid: false, zeroline: false,
        tickfont: {family: fontFamily, size: 40, color: "#000"}, fixedrange: true
    };

    // rock body first, then the class areas, then sky and survey line on top
    const baseBox = [[-100,3900],[2200,3900],[2200,5400],[-100,5400]];
    data.push(polygon(baseBox, classColors[panelBase[i]], xa, ya, false));
    panelAreas[i].forEach(a => data.push(polygon(a[1], classColors[a[0]], xa, ya, true)));
    data.push(polygon(terrain.concat([[2200,5400],[-100,5400]]), "#fff", xa, ya, false));
    if (cuts[i]) data.push(polygon(cuts[i], "#fff", xa, ya, false));
    if (hasWedge[i]) data.push(polygon(paleWedge, "#DDF8FB", xa, ya, false));
    redLines[i].forEach(r => data.push(polyline(r, "#F00", 2, xa, ya, i === 6 ? 0.45 : 1)));
    data.push(polyline(terrain, "#000", 2, xa, ya));

    // class legend
    const w = (b.lr - b.lx) / 4;
    classColors.forEach((c, k) => {
        shapes.push({type: "rect", xref: "paper", yref: "paper",
            x0: px(b.lx + k * w), x1: px(b.lx + (k + 1) * w), y0: py(b.lb), y1: py(b.lt),
            fillcolor: c, line: {color: "#000", width: 2}, layer: "above"});
    });
    classLabels[i].concat(["(ppm)"]).forEach((t, k) => {
        annotations.push({text: t, xref: "paper", yref: "paper", x: px(b.tx[k]), y: py(b.ty),
            xanchor: "center", yanchor: "middle", showarrow: false,
            font: {family: fontFamily, size: 37, color: "#000"}});
    });
    annotations.push({text: elementNames[i], xref: "paper", yref: "paper", x: px(b.ex), y: py(b.ey),
        xanchor: "center", yanchor: "middle", showarrow: false,
        font: {family: fontFamily, size: 48, color: "#000"}});
});

Plotly.newPlot("chart", data, layout, {displayModeBar: false, staticPlot: true});
</script>
</body>
</html>
